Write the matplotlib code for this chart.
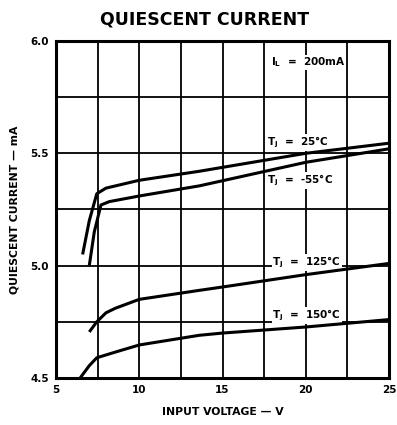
import matplotlib
matplotlib.use("Agg")
import matplotlib.pyplot as plt

# Data
v_25 = [6.6, 7.0, 7.45, 8.0, 10.0, 13.6, 20.0, 25.0]
i_25 = [5.05, 5.20, 5.32, 5.345, 5.38, 5.42, 5.50, 5.545]
v_m55 = [7.0, 7.3, 7.7, 8.2, 10.0, 13.6, 20.0, 25.0]
i_m55 = [5.00, 5.15, 5.27, 5.285, 5.31, 5.355, 5.46, 5.52]
v_125 = [7.0, 7.45, 8.0, 8.55, 10.0, 13.6, 15.0, 20.0, 25.0]
i_125 = [4.705, 4.75, 4.79, 4.81, 4.85, 4.89, 4.905, 4.96, 5.01]
v_150 = [6.45, 7.0, 7.45, 8.55, 10.0, 13.6, 15.0, 20.0, 25.0]
i_150 = [4.50, 4.555, 4.59, 4.615, 4.647, 4.69, 4.70, 4.727, 4.76]

x_ticks = [5, 10, 15, 20, 25]
x_ticklabels = ["5", "10", "15", "20", "25"]
y_ticks = [4.5, 5.0, 5.5, 6.0]
y_ticklabels = ["4.5", "5.0", "5.5", "6.0"]
x_grid = [7.5, 10, 12.5, 15, 17.5, 20, 22.5]
y_grid = [4.75, 5.0, 5.25, 5.5, 5.75]

fig = plt.figure(figsize=(3.97, 4.25), dpi=100)
ax = fig.add_axes([0.141, 0.1106, 0.839, 0.793])
ax.set_xlim(5, 25)
ax.set_ylim(4.5, 6.0)

for g in x_grid:
    ax.axvline(g, color="black", lw=1.3, zorder=1)
for g in y_grid:
    ax.axhline(g, color="black", lw=1.3, zorder=1)

for v, i in [(v_25, i_25), (v_m55, i_m55), (v_125, i_125), (v_150, i_150)]:
    ax.plot(v, i, color="black", lw=2.2, solid_capstyle="butt", zorder=3)

for s in ax.spines.values():
    s.set_linewidth(2.2)
    s.set_zorder(4)

ax.set_xticks(x_ticks)
ax.set_xticklabels(x_ticklabels, fontweight="bold", fontsize=7.5)
ax.set_yticks(y_ticks)
ax.set_yticklabels(y_ticklabels, fontweight="bold", fontsize=7.5)
ax.tick_params(length=0, pad=5)

ax.set_xlabel("INPUT VOLTAGE — V", fontweight="bold", fontsize=7.8, labelpad=9)
ax.set_ylabel("QUIESCENT CURRENT — mA", fontweight="bold", fontsize=7.8, labelpad=8)
fig.text(0.515, 0.955, "QUIESCENT CURRENT", ha="center", va="center",
         fontsize=12.5, fontweight="bold")

tk = dict(fontsize=7.5, fontweight="bold", ha="left", va="center", zorder=2,
          bbox=dict(facecolor="white", edgecolor="none", pad=0.5))
ax.text(17.9, 5.905, r"I$_\mathbf{L}$  =  200mA", **tk)
ax.text(17.7, 5.55, r"T$_\mathbf{j}$  =  25°C", **tk)
ax.text(17.7, 5.38, r"T$_\mathbf{j}$  =  -55°C", **tk)
ax.text(18.0, 5.015, r"T$_\mathbf{j}$  =  125°C", **tk)
ax.text(18.0, 4.78, r"T$_\mathbf{j}$  =  150°C", **tk)

fig.savefig("out.png", dpi=100)
